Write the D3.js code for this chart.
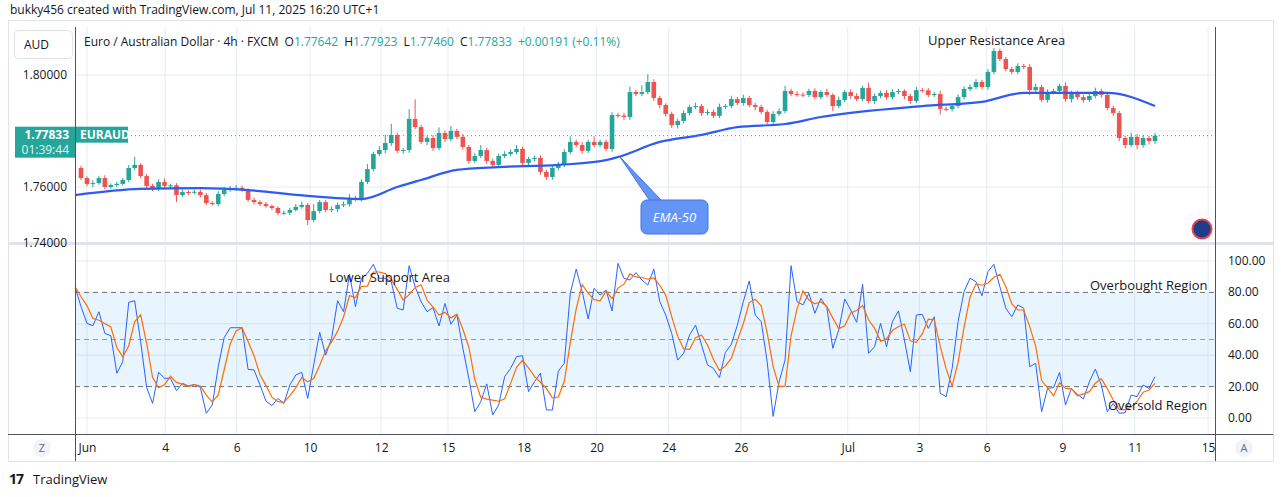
<!DOCTYPE html>
<html>
<head>
<meta charset="utf-8">
<script src="https://cdn.jsdelivr.net/npm/d3@7"></script>
<style>
body { margin: 0; background: #fff; font-family: "Open Sans", "DejaVu Sans", sans-serif; }
text { fill: #131722; }
</style>
</head>
<body>
<div id="chart"></div>
<script>
// EURAUD 4h candles, index 0 = first visible bar (Jun 1)
const firstOpen = 1.7668;
const closes = [1.7632,1.7611,1.7614,1.7632,1.7600,1.7607,1.7611,1.7625,1.7668,1.7679,
1.7639,1.7604,1.7593,1.7618,1.7604,1.7606,1.7571,1.7582,1.7580,1.7583,
1.7571,1.7543,1.7539,1.7575,1.7589,1.7596,1.7597,1.7589,1.7554,1.7546,
1.7539,1.7532,1.7525,1.7507,1.7508,1.7518,1.7529,1.7536,1.7482,1.7514,
1.7546,1.7518,1.7521,1.7536,1.7538,1.7561,1.7557,1.7618,1.7664,1.7718,
1.7732,1.7757,1.7786,1.7729,1.7732,1.7843,1.7814,1.7761,1.7775,1.7739,
1.7793,1.7771,1.7800,1.7779,1.7743,1.7693,1.7711,1.7732,1.7693,1.7679,
1.7711,1.7718,1.7725,1.7736,1.7686,1.7700,1.7704,1.7654,1.7636,1.7668,
1.7679,1.7725,1.7761,1.7750,1.7729,1.7761,1.7750,1.7761,1.7736,1.7857,
1.7855,1.7850,1.7939,1.7932,1.7939,1.7975,1.7918,1.7893,1.7861,1.7821,
1.7836,1.7864,1.7886,1.7889,1.7864,1.7868,1.7854,1.7886,1.7889,1.7914,
1.7900,1.7918,1.7893,1.7886,1.7868,1.7832,1.7861,1.7871,1.7943,1.7932,
1.7930,1.7929,1.7943,1.7921,1.7939,1.7929,1.7889,1.7911,1.7939,1.7925,
1.7914,1.7954,1.7907,1.7925,1.7936,1.7921,1.7939,1.7943,1.7925,1.7907,
1.7946,1.7945,1.7929,1.7932,1.7879,1.7878,1.7889,1.7921,1.7950,1.7957,
1.7975,1.7957,1.8011,1.8086,1.8057,1.8021,1.8011,1.8032,1.8029,1.7946,
1.7957,1.7911,1.7939,1.7943,1.7961,1.7914,1.7936,1.7921,1.7911,1.7925,
1.7943,1.7929,1.7882,1.7864,1.7775,1.7750,1.7779,1.7750,1.7775,1.7764,
1.77833];
// wick lengths in pips beyond the body
const wickUp = [8,6,10,8,10,6,8,8,10,29, 6,8,8,10,12,6,8,8,6,8, 8,8,6,10,12,8,10,8,6,8,
6,8,6,6,8,8,10,12,8,25, 8,8,10,8,10,14,8,10,18,8, 14,30,40,8,8,35,70,8,10,10,
20,8,18,8,10,8,10,18,8,8, 8,10,10,14,8,8,8,10,8,8, 10,10,20,8,10,8,20,8,8,10,
8,10,20,8,25,28,10,8,6,8, 8,10,8,12,8,10,8,12,8,12, 8,12,8,8,8,8,10,10,18,8,
10,8,8,10,6,12,6,12,8,10, 10,8,18,8,8,10,10,8,6,8, 12,8,8,8,12,8,8,10,10,10,
10,8,10,10,8,8,8,10,8,10, 12,8,10,8,8,12,8,8,8,12, 12,8,8,8,8,8,15,10,12,8, 10];
const wickDn = [8,8,12,6,8,6,8,6,8,8, 8,8,8,8,8,8,25,6,8,6, 8,8,6,8,8,6,8,6,8,8,
8,6,8,8,8,8,6,6,18,8, 8,8,8,10,8,8,8,8,8,8, 8,12,10,8,10,10,8,8,12,10,
8,10,8,8,10,10,8,8,10,10, 8,8,8,8,10,8,8,10,10,10, 8,8,8,8,10,8,8,8,8,10,
8,10,10,8,8,8,10,12,10,10, 12,8,8,8,10,8,8,8,8,8, 8,10,8,12,8,8,10,8,8,8,
8,8,8,8,8,8,18,8,8,10, 8,8,8,10,8,8,8,8,12,10, 8,8,8,8,20,8,8,8,8,8,
8,8,10,8,8,8,8,8,8,18, 10,8,10,8,8,10,12,10,10,8, 8,10,8,10,12,12,8,15,10,12, 10];

// EMA-50 read at bar indices
const emaIdx = [-1,10,20,28,38,47,53,57,63,70,80,88,90,97,104,110,118,124,141,151,158,172,180];
const emaVal = [1.7571,1.7593,1.7596,1.7589,1.7568,1.7557,1.7600,1.7625,1.7661,1.7671,1.7679,1.7696,1.7707,1.7761,1.7786,1.7814,1.7825,1.7850,1.7889,1.7904,1.7936,1.7936,1.7889];

// Stochastic %K, starting at bar -1
const stochK = [83.6,70.9,60.3,58.8,67.7,53.9,52.4,28.5,35.9,73.7,74.7,48.6,19.5,9.3,29.1,25.3,25.3,17.4,22.1,20.4,
21.4,19.5,3,8.3,32.7,51.2,57.5,57.5,57.5,31.0,30.6,21.0,10.8,7.9,12.5,9.3,21.0,27.4,29.1,12.5,
33.8,54.6,40.1,50.7,74.7,67.7,91.5,70.9,89.0,92.1,97.9,89.0,89.0,86.8,69.9,68.8,97.0,83.6,74.1,67.7,
70.3,58.6,73.0,59.7,65.6,44.4,25.3,4.0,10.4,21.7,2,8.3,26.3,31.6,39.1,39.7,16.8,23.1,28.5,5.1,
5.1,29.9,34.8,79.4,94.9,80.5,63.1,82.6,78.3,81.5,68.2,98.5,89.0,87.9,92.6,87.9,84.7,94.9,74.1,65.6,
53.9,36.9,41.2,52.9,59.2,46.5,33.8,31.6,25.7,41.8,46.9,59.2,74.1,87.3,65.6,61.4,35.9,1,23.1,36.9,
97.0,74.1,72.0,79.4,66.7,76.2,70.3,44.4,56.1,75.8,68.8,60.9,85.1,41.2,45.4,60.3,45.4,61.4,68.2,49.7,
29.5,65.6,66.0,57.1,64.5,15.7,13.6,31.6,61.4,80.5,89.0,86.8,77.9,93.2,97.9,83.6,69.9,64.5,72.0,69.9,
32.7,34.8,4.0,18.9,19.3,29.1,8.3,18.9,15.1,12.1,23.1,31.2,21.0,4.0,9.3,3.0,3.4,14.6,13.6,21.0,
18.9,26.3];

const dayIdx = [1.0,14.1,26.1,38.4,50.3,61.5,74.2,86.4,98.5,110.6,128.5,140.5,151.8,164.5,176.6,188.9];
const dayLabels = ["Jun","4","6","10","12","15","18","20","24","26","Jul","3","6","9","11","15"];
const priceTicks = [1.74, 1.76, 1.80];
const priceGrid = [1.74, 1.76, 1.78, 1.80];
const oscTicks = [0, 20, 40, 60, 80, 100];

const W = 1281, H = 497;
const L = 75, R = 1215;
const green = "#26a69a", red = "#ef5350", grid = "#e6ecf4";

const svg = d3.select("#chart").append("svg").attr("width", W).attr("height", H);

const x = d3.scaleLinear().domain([0, 180]).range([81, 1155]);
const y = d3.scaleLinear().domain([1.74, 1.80]).range([243, 75]);
const yo = d3.scaleLinear().domain([0, 100]).range([418, 261]);

// outer frame
svg.append("rect").attr("x", 8.5).attr("y", 20.5).attr("width", 1265).attr("height", 441)
    .attr("fill", "none").attr("stroke", "#e0e3eb");
svg.append("text").attr("x", 10).attr("y", 14).attr("font-size", 12).text("bukky456 created with TradingView.com, Jul 11, 2025 16:20 UTC+1");

const defs = svg.append("defs");
defs.append("clipPath").attr("id", "cp").append("rect").attr("x", L).attr("y", 27).attr("width", R - L).attr("height", 216);
defs.append("clipPath").attr("id", "co").append("rect").attr("x", L).attr("y", 245).attr("width", R - L).attr("height", 188);

// grids
svg.append("g").selectAll("line").data(dayIdx).join("line")
    .attr("x1", d => x(d)).attr("x2", d => x(d)).attr("y1", 27).attr("y2", 434)
    .attr("stroke", grid);
svg.append("g").selectAll("line").data(priceGrid).join("line")
    .attr("x1", L).attr("x2", R).attr("y1", d => y(d)).attr("y2", d => y(d)).attr("stroke", grid);
svg.append("g").selectAll("line").data([0, 40, 60, 100]).join("line")
    .attr("x1", L).attr("x2", R).attr("y1", d => yo(d)).attr("y2", d => yo(d)).attr("stroke", grid);

// pane separator
svg.append("rect").attr("x", 8).attr("y", 242).attr("width", 1265).attr("height", 3).attr("fill", "#e0e3eb");

// price labels (left); 1.78000 sits behind the last-price tag
svg.append("g").selectAll("text").data(priceTicks).join("text")
    .attr("x", 67).attr("y", d => y(d) + 4).attr("text-anchor", "end").attr("font-size", 12)
    .text(d => d.toFixed(5));

svg.append("rect").attr("x", 14.5).attr("y", 30.5).attr("width", 58).attr("height", 28).attr("rx", 4)
    .attr("fill", "#fff").attr("stroke", "#e0e3eb");
svg.append("text").attr("x", 24).attr("y", 49).attr("font-size", 12).text("AUD");

// candles
const pane = svg.append("g").attr("clip-path", "url(#cp)");
const bars = closes.map((c, i) => {
    const o = i == 0 ? firstOpen : closes[i - 1];
    return {i: i, o: o, c: c, h: Math.max(o, c) + wickUp[i] / 10000, l: Math.min(o, c) - wickDn[i] / 10000};
});
pane.selectAll(".wick").data(bars).join("line")
    .attr("x1", d => x(d.i)).attr("x2", d => x(d.i))
    .attr("y1", d => y(d.h)).attr("y2", d => y(d.l))
    .attr("stroke", d => d.c >= d.o ? green : red).attr("stroke-width", 1);
pane.selectAll(".body").data(bars).join("rect")
    .attr("x", d => x(d.i) - 2.3).attr("width", 4.6)
    .attr("y", d => y(Math.max(d.o, d.c)))
    .attr("height", d => Math.max(1, Math.abs(y(d.o) - y(d.c))))
    .attr("fill", d => d.c >= d.o ? green : red);

// EMA-50
pane.append("path").datum(emaIdx.map((d, i) => [d, emaVal[i]]))
    .attr("d", d3.line().x(d => x(d[0])).y(d => y(d[1])).curve(d3.curveMonotoneX))
    .attr("fill", "none").attr("stroke", "#2f5bf5").attr("stroke-width", 2.2);

// last price line
const last = closes[closes.length - 1];
svg.append("line").attr("x1", L).attr("x2", R).attr("y1", y(last)).attr("y2", y(last))
    .attr("stroke", green).attr("stroke-dasharray", "1,3");
svg.append("rect").attr("x", 15).attr("y", y(last) - 9).attr("width", 60).attr("height", 31).attr("fill", green);
svg.append("rect").attr("x", 75).attr("y", y(last) - 9).attr("width", 53).attr("height", 16).attr("fill", green);
svg.append("text").attr("x", 69).attr("y", y(last) + 3).attr("text-anchor", "end").attr("font-size", 12)
    .attr("font-weight", "bold").style("fill", "#fff").text(last.toFixed(5));
svg.append("text").attr("x", 69).attr("y", y(last) + 18).attr("text-anchor", "end").attr("font-size", 12)
    .style("fill", "#e0f5f2").text("01:39:44");
svg.append("text").attr("x", 80).attr("y", y(last) + 3).attr("font-size", 12)
    .attr("font-weight", "bold").style("fill", "#fff").text("EURAUD");

// legend
const lg = svg.append("text").attr("x", 84).attr("y", 46).attr("font-size", 12);
const parts = [["Euro / Australian Dollar · 4h · FXCM", "#131722", 0], ["O", "#131722", 6], ["1.77642", green, 0],
    ["H", "#131722", 6], ["1.77923", green, 0], ["L", "#131722", 6], ["1.77460", green, 0], ["C", "#131722", 6], ["1.77833", green, 0],
    ["+0.00191 (+0.11%)", green, 6]];
parts.forEach(p => lg.append("tspan").attr("dx", p[2]).style("fill", p[1]).text(p[0]));

svg.append("text").attr("x", 928).attr("y", 45).attr("font-size", 13).text("Upper Resistance Area");

// EMA-50 callout
svg.append("path").attr("d", "M620,157 L650,201 L662,201 Z").attr("fill", "#6495f6").attr("stroke", "#3f73e6");
svg.append("rect").attr("x", 641).attr("y", 200).attr("width", 67).attr("height", 34).attr("rx", 6)
    .attr("fill", "#6495f6").attr("stroke", "#3f73e6");
svg.append("text").attr("x", 674.5).attr("y", 222).attr("text-anchor", "middle").attr("font-size", 13)
    .attr("font-style", "italic").style("fill", "#fff").text("EMA-50");

// flag badge
svg.append("circle").attr("cx", 1202).attr("cy", 229).attr("r", 9.5).attr("fill", "#1f3c8f").attr("stroke", "#e0444a").attr("stroke-width", 2);

// oscillator
const osc = svg.append("g").attr("clip-path", "url(#co)");
osc.append("rect").attr("x", L).attr("width", R - L).attr("y", yo(80)).attr("height", yo(20) - yo(80))
    .attr("fill", "rgba(33,150,243,0.1)");
[80, 50, 20].forEach(v => {
    osc.append("line").attr("x1", L).attr("x2", R).attr("y1", yo(v)).attr("y2", yo(v))
        .attr("stroke", v == 50 ? "#9598a1" : "#6a6d78").attr("stroke-dasharray", "5,4");
});
const kPts = stochK.map((v, i) => [i - 1, v]);
const dPts = kPts.map((p, i) => {
    const s = stochK.slice(Math.max(0, i - 2), i + 1);
    return [p[0], d3.mean(s)];
});
const ln = d3.line().x(d => x(d[0])).y(d => yo(d[1]));
osc.append("path").datum(kPts).attr("d", ln).attr("fill", "none").attr("stroke", "#2962ff").attr("stroke-width", 1);
osc.append("path").datum(dPts).attr("d", ln).attr("fill", "none").attr("stroke", "#ff6d00").attr("stroke-width", 1.2);

svg.append("text").attr("x", 329).attr("y", 282).attr("font-size", 13).text("Lower Support Area");
svg.append("text").attr("x", 1090).attr("y", 290).attr("font-size", 13).text("Overbought Region");
svg.append("text").attr("x", 1108).attr("y", 410).attr("font-size", 13).text("Oversold Region");

svg.append("g").selectAll("text").data(oscTicks).join("text")
    .attr("x", 1228).attr("y", d => yo(d) + 4).attr("font-size", 12).text(d => d.toFixed(2));

// axis borders
svg.append("line").attr("x1", L + 0.5).attr("x2", L + 0.5).attr("y1", 27).attr("y2", 461).attr("stroke", "#50535e");
svg.append("line").attr("x1", R + 0.5).attr("x2", R + 0.5).attr("y1", 27).attr("y2", 461).attr("stroke", "#50535e");

// time axis
const xa = svg.append("g").attr("transform", "translate(0,434)")
    .call(d3.axisBottom(x).tickValues(dayIdx).tickFormat((d, i) => dayLabels[i]).tickSize(0).tickPadding(9));
xa.select(".domain").attr("stroke", "#50535e").attr("d", "M8,0.5H1273");
xa.selectAll("text").attr("font-size", 12).attr("font-family", "Open Sans, DejaVu Sans, sans-serif").style("fill", "#131722");

svg.append("circle").attr("cx", 42).attr("cy", 448).attr("r", 9).attr("fill", "#f0f3fa");
svg.append("text").attr("x", 42).attr("y", 452).attr("text-anchor", "middle").attr("font-size", 11).style("fill", "#6a6d78").text("Z");
svg.append("circle").attr("cx", 1244).attr("cy", 448).attr("r", 9).attr("fill", "#f0f3fa");
svg.append("text").attr("x", 1244).attr("y", 452).attr("text-anchor", "middle").attr("font-size", 11).style("fill", "#6a6d78").text("A");

// footer
svg.append("text").attr("x", 9).attr("y", 484).attr("font-size", 14).attr("font-weight", "bold").attr("letter-spacing", -1).text("17");
svg.append("text").attr("x", 33).attr("y", 484).attr("font-size", 13).text("TradingView");
</script>
</body>
</html>
